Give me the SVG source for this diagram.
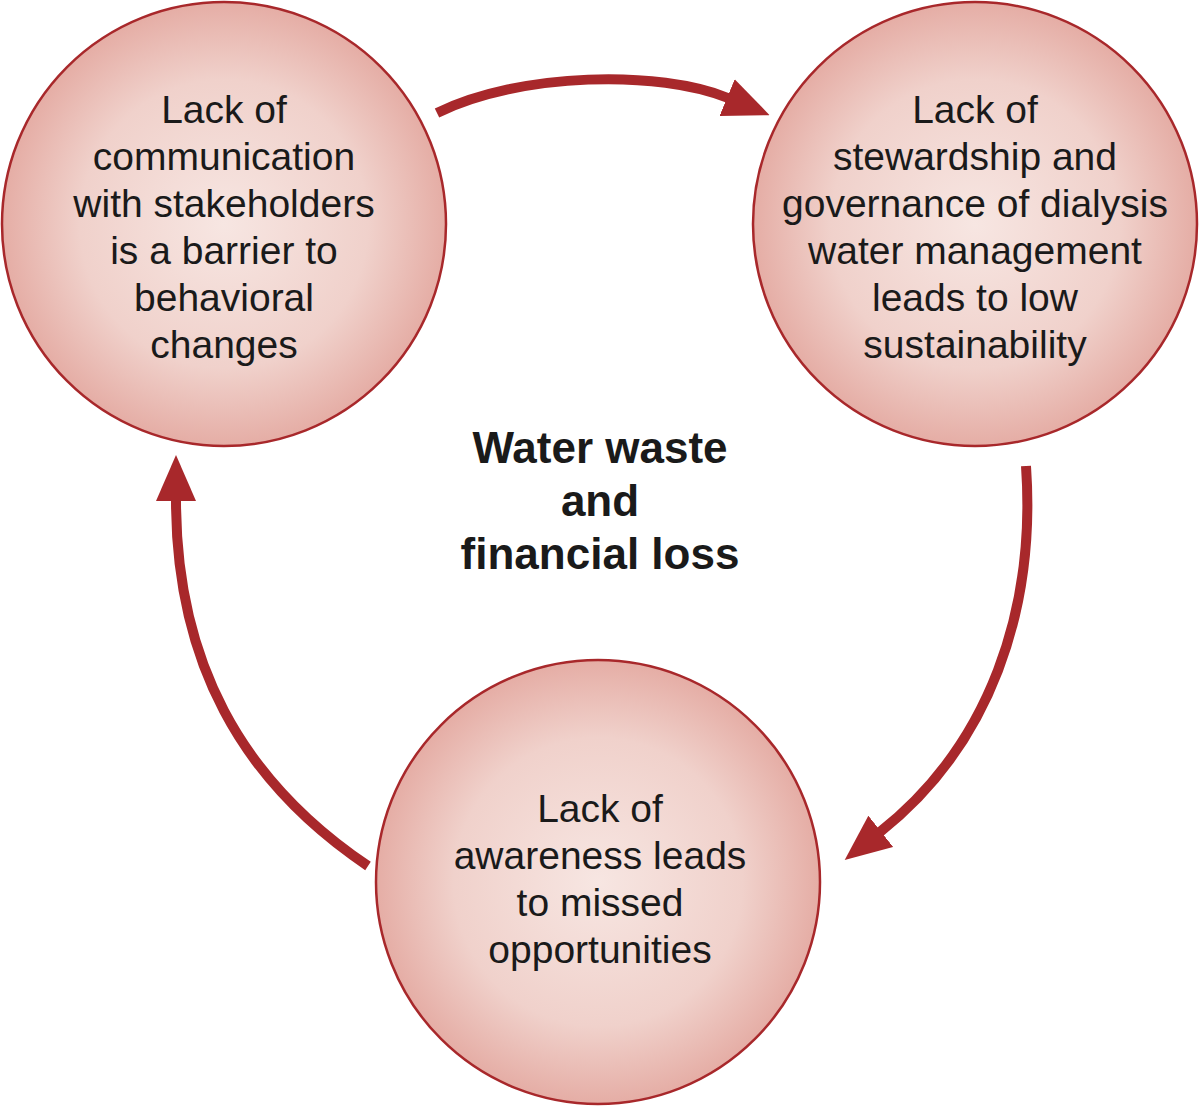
<svg xmlns="http://www.w3.org/2000/svg" width="1200" height="1108" viewBox="0 0 1200 1108">
<style>
.node circle{fill:url(#g);stroke:#a8282b;stroke-width:2.5}
.t{font-family:"Liberation Sans",Arial,sans-serif;font-size:39px;fill:#1a1a1a;text-anchor:middle}
.c{font-family:"Liberation Sans",Arial,sans-serif;font-size:44px;font-weight:bold;fill:#1a1a1a;text-anchor:middle}
.conn path{fill:none;stroke:#a8282b;stroke-width:10;marker-end:url(#ah)}
</style>
<defs>
<radialGradient id="g" cx="0.5" cy="0.5" r="0.5">
<stop offset="0" stop-color="#f7e6e2"/>
<stop offset="0.65" stop-color="#f0d1cb"/>
<stop offset="1" stop-color="#e5ada5"/>
</radialGradient>
<marker id="ah" markerUnits="userSpaceOnUse" viewBox="0 0 46 40" refX="1" refY="20" markerWidth="46" markerHeight="40" orient="auto">
<path d="M0,0 L46,20 L0,40 z" fill="#a8282b"/>
</marker>
</defs>
<rect width="1200" height="1108" fill="#ffffff"/>
<g class="conn">
<path d="M437,113 C520,72 660,70 728,98"/>
<path d="M1026,466 C1036,610 990,745 880,832"/>
<path d="M368,866 C240,780 176,660 176,500"/>
</g>
<g id="n1" class="node">
<circle cx="224" cy="224" r="222"/>
<text class="t" x="224" y="123">Lack of</text>
<text class="t" x="224" y="170">communication</text>
<text class="t" x="224" y="217">with stakeholders</text>
<text class="t" x="224" y="264">is a barrier to</text>
<text class="t" x="224" y="311">behavioral</text>
<text class="t" x="224" y="358">changes</text>
</g>
<g id="n2" class="node">
<circle cx="975" cy="224" r="222"/>
<text class="t" x="975" y="123">Lack of</text>
<text class="t" x="975" y="170">stewardship and</text>
<text class="t" x="975" y="217">governance of dialysis</text>
<text class="t" x="975" y="264">water management</text>
<text class="t" x="975" y="311">leads to low</text>
<text class="t" x="975" y="358">sustainability</text>
</g>
<g id="n3" class="node">
<circle cx="598" cy="882" r="222"/>
<text class="t" x="600" y="822">Lack of</text>
<text class="t" x="600" y="869">awareness leads</text>
<text class="t" x="600" y="916">to missed</text>
<text class="t" x="600" y="963">opportunities</text>
</g>
<g id="center">
<text class="c" x="600" y="463">Water waste</text>
<text class="c" x="600" y="516">and</text>
<text class="c" x="600" y="569">financial loss</text>
</g>
</svg>
